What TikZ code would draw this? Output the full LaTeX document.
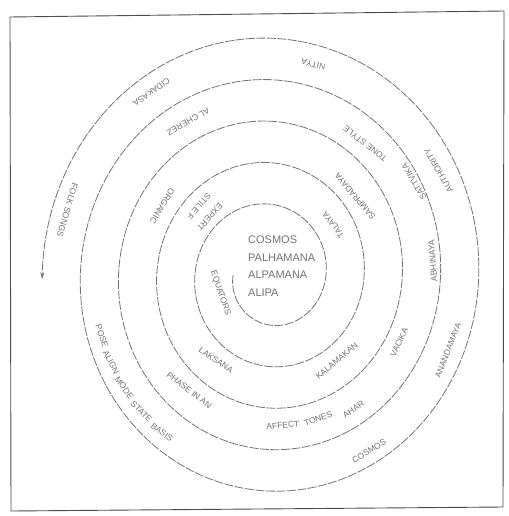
\documentclass[tikz,border=0pt]{standalone}
\usepackage{fontspec}
\setmainfont{Liberation Sans}
\usetikzlibrary{arrows.meta}
\tikzset{
  frame/.style={draw=black!70, line width=0.9pt},
  spiralline/.style={draw=black!55, line width=0.8pt, dash pattern=on 9pt off 1.5pt},
  centertext/.style={font=\fontsize{11}{17.5}\selectfont, text=black!55, align=left, inner sep=0pt, anchor=west},
  lbl/.style={font=\fontsize{8.5}{10}\selectfont, text=black!55, inner sep=0.5pt}
}
% label on the spiral band: name, angle, radius offset, text
\newcommand\rlabel[4]{%
  \node[lbl, rotate=#2+90] (#1) at ({270+(17.8+0.1061*(#2+#3))*cos(#2)}, {275-(18.95+0.1153*(#2+#3))*sin(#2)}) {#4};}
\begin{document}
\begin{tikzpicture}[x=1pt, y=-1pt]
\useasboundingbox (0,0) rectangle (508,516);
\draw[frame] (10,17) -- (504,11) -- (503,507) -- (11,511) -- cycle;
% spiral
\draw[spiralline, -{Stealth[length=7pt,width=4pt]}]
  plot[domain=180:1981, samples=700, variable=\t]
  ({270+(17.8+0.1061*\t)*cos(\t)}, {275-(18.95+0.1153*\t)*sin(\t)});
% centre
\node[centertext] (centre) at (248,266) {COSMOS\\PALHAMANA\\ALPAMANA\\ALIPA};
% outer band
\rlabel{nitya}{77.4}{1631.6}{NITYA}
\rlabel{cidakasa}{125.1}{1649.9}{CIDAKASA}
\rlabel{folk}{163.6}{1660.4}{FOLK SONGS}
\rlabel{authority}{29.7}{1633.3}{AUTHORITY}
\rlabel{ananda}{338.7}{1295.3}{ANANDAMAYA}
\rlabel{cosmosb}{301.4}{1322.6}{COSMOS}
\rlabel{pose}{198.5}{1304}{POSE}
\rlabel{align}{206.85}{1304}{ALIGN}
\rlabel{mode}{215.5}{1304}{MODE}
\rlabel{state}{224.4}{1304}{STATE}
\rlabel{basis}{233.3}{1304}{BASIS}
% second band
\rlabel{alcherez}{120.1}{1250.9}{AL CHEREZ}
\rlabel{tonestyle}{51.8}{1231.2}{TONE STYLE}
\rlabel{sattvika}{30.9}{1384.1}{SATTVIKA}
\rlabel{abhinaya}{4.6}{1367.4}{ABHINAYA}
\rlabel{vacika}{334.3}{848.7}{VACIKA}
\rlabel{affect}{275.3}{870.8}{AFFECT}
\rlabel{tones}{290.0}{870.8}{TONES}
\rlabel{ahar}{304}{935.7}{AHAR}
\rlabel{phase}{232.8}{859.2}{PHASE IN AN}
% third band
\rlabel{organic}{149.4}{863.6}{ORGANIC}
\rlabel{sampradaya}{40.4}{846.6}{SAMPRADAYA}
\rlabel{kalamakan}{310.1}{498.9}{KALAMAKAN}
\rlabel{laksana}{235.5}{495.5}{LAKSANA}
% inner band
\rlabel{talaya}{36.4}{536.6}{TALAYA}
\rlabel{stile}{138.2}{592}{STILE F}
\rlabel{expert}{138.2}{455}{EXPERT}
\rlabel{equators}{198.8}{127.2}{EQUATORS}
\end{tikzpicture}
\end{document}
